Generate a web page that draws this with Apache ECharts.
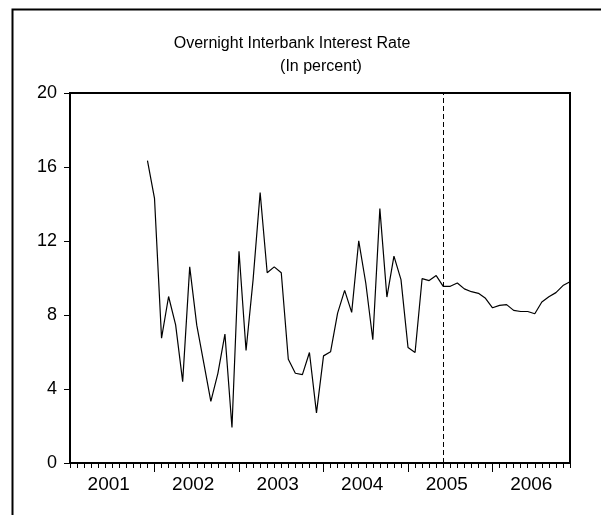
<!DOCTYPE html>
<html>
<head>
<meta charset="utf-8">
<script src="https://cdn.jsdelivr.net/npm/echarts@6/dist/echarts.min.js"></script>
<style>html,body{margin:0;padding:0;background:#fff}#c{width:601px;height:515px}</style>
</head>
<body>
<div id="c"></div>
<script>
// ---- data ----
const titleLine1 = 'Overnight Interbank Interest Rate';
const titleLine2 = '(In percent)';
const yearLabels = ['2001', '2002', '2003', '2004', '2005', '2006'];
const firstObsMonth = 11;   // Dec 2001, months counted from Jan 2001
const markerMonth = 53;     // Jun 2005 (dashed line)
const yTicks = [0, 4, 8, 12, 16, 20];
// monthly overnight rate, Dec 2001 ... Dec 2006
const rate = [
  16.35,
  14.30, 6.75, 9.00, 7.47, 4.40, 10.60, 7.45, 5.40, 3.33, 4.85, 6.97, 1.92,
  11.45, 6.08, 9.91, 14.62, 10.28, 10.60, 10.28, 5.61, 4.85, 4.78, 5.97, 2.71,
  5.79, 6.01, 8.10, 9.33, 8.14, 12.01, 9.73, 6.66, 13.75, 8.97, 11.18, 9.91,
  6.24, 5.97, 9.97, 9.86, 10.13, 9.55, 9.55, 9.73, 9.41, 9.26, 9.17, 8.90,
  8.39, 8.52, 8.56, 8.25, 8.19, 8.19, 8.07, 8.70, 8.99, 9.21, 9.59, 9.80
];

// ---- derived ----
const totalMonths = yearLabels.length * 12;
const seriesData = rate.map((v, i) => [firstObsMonth + i, v]);
const majorTicks = yearLabels.map((y, i) => i * 12).filter(v => v > 0);
const labelPos = yearLabels.map((y, i) => i * 12 + 5.5);

const font = 'Liberation Sans, Arial, sans-serif';
const chart = echarts.init(document.getElementById('c'), null, {renderer: 'canvas'});
const gridBox = {left: 70, right: 31, top: 93, bottom: 52};
chart.setOption({
  animation: false,
  backgroundColor: '#ffffff',
  title: [
    {text: titleLine1, left: 292, top: 36, textAlign: 'center', padding: 0,
     textStyle: {fontFamily: font, fontSize: 16, fontWeight: 'normal', color: '#000'}},
    {text: titleLine2, left: 321, top: 59, textAlign: 'center', padding: 0,
     textStyle: {fontFamily: font, fontSize: 16, fontWeight: 'normal', color: '#000'}}
  ],
  graphic: [{
    type: 'rect', silent: true, z: 100,
    shape: {x: 12.5, y: 9.5, width: 800, height: 800},
    style: {fill: 'none', stroke: '#000', lineWidth: 2}
  }],
  grid: [
    Object.assign({show: true, borderColor: '#000', borderWidth: 2, backgroundColor: '#fff'}, gridBox),
    Object.assign({show: false}, gridBox)
  ],
  xAxis: [
    {
      type: 'value', gridIndex: 0, min: 0, max: totalMonths - 1, interval: 1,
      axisLine: {show: true, lineStyle: {color: '#000', width: 2}},
      axisTick: {show: true, length: 5, lineStyle: {color: '#000', width: 1}},
      axisLabel: {show: false},
      splitLine: {show: false}
    },
    {
      type: 'value', gridIndex: 1, min: 0, max: totalMonths - 1, interval: 1,
      axisLine: {show: false},
      axisTick: {show: true, length: 9, customValues: majorTicks, lineStyle: {color: '#000', width: 1}},
      axisLabel: {
        show: true, customValues: labelPos, margin: 12,
        fontFamily: font, fontSize: 19, color: '#000',
        formatter: v => yearLabels[Math.floor(v / 12)]
      },
      splitLine: {show: false}
    }
  ],
  yAxis: [
    {
      type: 'value', gridIndex: 0, min: yTicks[0], max: yTicks[yTicks.length - 1], interval: 4,
      axisLine: {show: true, lineStyle: {color: '#000', width: 2}},
      axisTick: {show: true, length: 6, lineStyle: {color: '#000', width: 1}},
      axisLabel: {margin: 13, fontFamily: font, fontSize: 18, color: '#000'},
      splitLine: {show: false}
    },
    {type: 'value', gridIndex: 1, min: 0, max: 20, show: false}
  ],
  series: [{
    type: 'line',
    xAxisIndex: 0, yAxisIndex: 0,
    data: seriesData,
    showSymbol: false,
    symbol: 'none',
    lineStyle: {color: '#000', width: 1.2},
    markLine: {
      silent: true, symbol: ['none', 'none'],
      label: {show: false},
      lineStyle: {color: '#000', width: 1, type: [5, 3]},
      data: [{xAxis: markerMonth}]
    }
  }]
});
</script>
</body>
</html>
